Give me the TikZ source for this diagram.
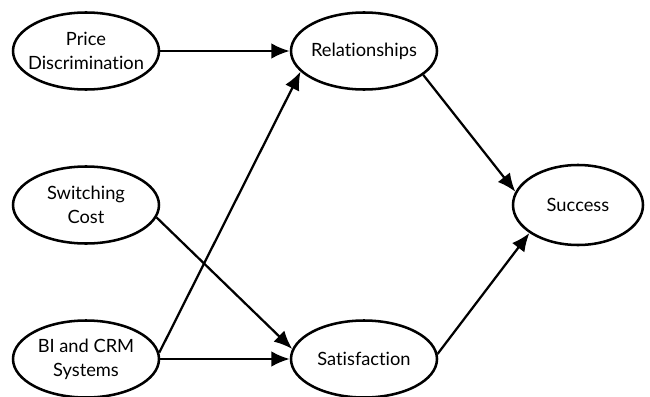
\documentclass[tikz,border=0pt]{standalone}
\usepackage{fontspec}
\setmainfont[Ligatures=NoCommon]{Lato}
\usetikzlibrary{positioning, arrows.meta, shapes.geometric}

\begin{document}
\begin{tikzpicture}[node distance=3.85cm, auto,
    factor/.style={ellipse, draw, line width=1.8pt, minimum width=3.65cm, minimum height=1.925cm, inner xsep=-0.3cm, inner ysep=0pt, align=center, font=\fontsize{13}{17}\selectfont},
    link/.style={-{Latex[length=13pt, width=11pt]}, line width=1.6pt}]
    \useasboundingbox (-2.15,1.275) rectangle (14.1,-8.625);
    % Nodes
    \node (price) [factor] {Price\\Discrimination};
    \node (switching) [factor, below of=price] {Switching\\Cost};
    \node (bicrm) [factor, below of=switching] {BI and CRM\\Systems};
    \node (relation) [factor, right of=price, xshift=3.1cm] {Relationships};
    \node (satisf) [factor, right of=bicrm, xshift=3.1cm] {Satisfaction};
    \node (success) [factor, right of=switching, xshift=8.45cm, minimum width=3.25cm, minimum height=2cm] {Success};

    % Arrows
    \draw[link] (price) -- (relation);
    \draw[link] (bicrm.5) -- (relation.198);
    \draw[link] (switching.-10) -- (satisf.172);
    \draw[link] (bicrm) -- (satisf);
    \draw[link] (relation.-22) -- (success.168);
    \draw[link] (satisf.4) -- (success.210);
\end{tikzpicture}
\end{document}
